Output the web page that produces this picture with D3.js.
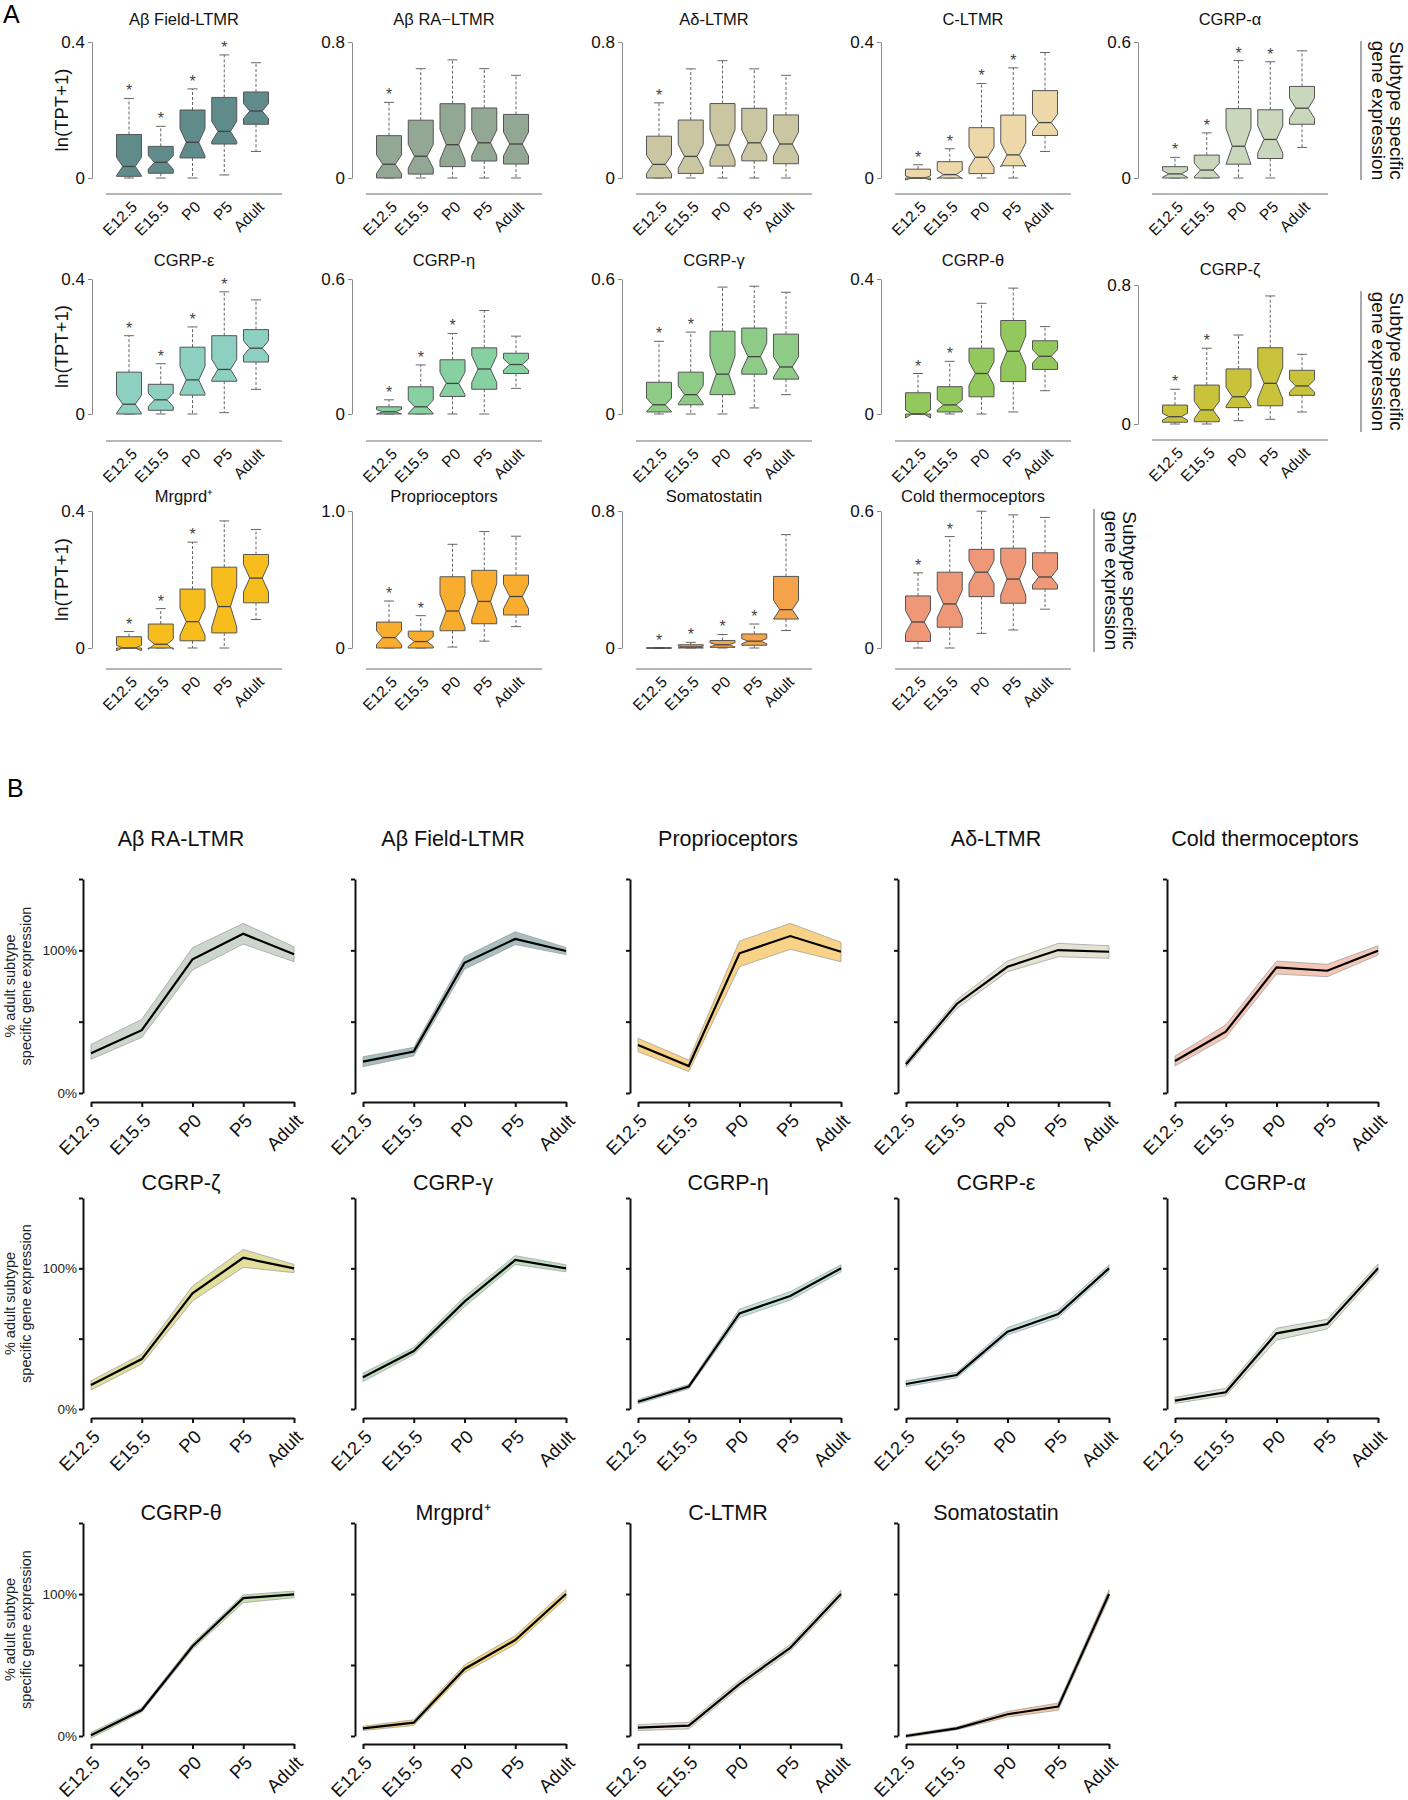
<!DOCTYPE html>
<html><head><meta charset="utf-8">
<script src="https://cdn.jsdelivr.net/npm/d3@7"></script>
<style>body{margin:0;background:#fff}svg{display:block;font-family:"Liberation Sans",Arial,Helvetica,sans-serif}</style>
</head><body><svg id="c" width="1408" height="1800"></svg>
<script>
// ---------- shared ----------
const stages = ["E12.5","E15.5","P0","P5","Adult"];

// ---------- Panel A (box plots, ln(TPT+1)) ----------
const titlesA = ["Aβ Field-LTMR","Aβ RA\u2212LTMR","Aδ-LTMR","C-LTMR","CGRP-α","CGRP-ε","CGRP-η","CGRP-γ","CGRP-θ","CGRP-ζ","Mrgprd\u207A","Proprioceptors","Somatostatin","Cold thermoceptors"];
const yMaxA = [0.4,0.8,0.8,0.4,0.6,0.4,0.6,0.6,0.4,0.8,0.4,1.0,0.8,0.6];
const fillA = ["#5f8b8b","#92a895","#cbc6a2","#ecd8a8","#c9d8bc","#8dd0c1","#86d0a2","#8dcb86","#93c85c","#c9c23b","#f6bd1c","#f8ad2e","#f4a34b","#ef9878"];
const loA = [
 [0,0,0,0.009,0.078],[0,0,0,0,0],[0,0,0,0,0],[0,0,0,0,0.078],[0,0,0,0,0.135],
 [0,0,0,0.004,0.073],[0,0,0,0,0.114],[0,0,0,0.027,0.086],[0,0,0,0.006,0.069],[0,0,0.019,0.027,0.069],
 [0,0,0,0,0.083],[0,0,0.007,0.05,0.156],[0,0,0,0,0.102],[0,0,0.064,0.079,0.17]];
const q1A = [
 [0.005,0.014,0.059,0.1,0.158],[0,0.023,0.067,0.1,0.082],[0,0.027,0.07,0.101,0.084],[0,0,0.013,0.036,0.125],[0,0,0.061,0.086,0.237],
 [0,0.011,0.056,0.097,0.154],[0,0,0.078,0.11,0.18],[0.009,0.041,0.086,0.177,0.155],[0,0.006,0.051,0.096,0.132],[0.01,0.013,0.094,0.105,0.165],
 [0,0,0.021,0.044,0.132],[0,0,0.126,0.177,0.241],[0,0,0.004,0.016,0.169],[0.029,0.091,0.225,0.196,0.258]];
const medA = [
 [0.034,0.046,0.105,0.137,0.197],[0.081,0.128,0.196,0.207,0.2],[0.08,0.127,0.194,0.207,0.2],[0,0.01,0.061,0.068,0.163],[0.018,0.035,0.14,0.17,0.308],
 [0.029,0.042,0.101,0.132,0.195],[0.01,0.032,0.136,0.2,0.22],[0.041,0.086,0.177,0.255,0.209],[0,0.027,0.12,0.186,0.171],[0.042,0.081,0.157,0.234,0.219],
 [0,0.011,0.077,0.121,0.204],[0.076,0.047,0.27,0.34,0.376],[0,0.006,0.019,0.04,0.224],[0.114,0.193,0.332,0.302,0.311]];
const q3A = [
 [0.128,0.093,0.2,0.237,0.253],[0.249,0.34,0.437,0.412,0.374],[0.246,0.341,0.438,0.41,0.371],[0.026,0.048,0.148,0.185,0.257],[0.05,0.101,0.306,0.301,0.404],
 [0.124,0.088,0.198,0.232,0.25],[0.032,0.121,0.241,0.294,0.27],[0.141,0.186,0.368,0.382,0.355],[0.063,0.081,0.195,0.277,0.217],[0.109,0.224,0.317,0.439,0.309],
 [0.033,0.07,0.172,0.236,0.273],[0.189,0.123,0.52,0.567,0.532],[0,0.019,0.044,0.082,0.418],[0.228,0.332,0.432,0.437,0.417]];
const hiA = [
 [0.234,0.152,0.262,0.362,0.339],[0.445,0.643,0.695,0.643,0.604],[0.442,0.642,0.69,0.642,0.604],[0.039,0.086,0.278,0.324,0.369],[0.091,0.199,0.518,0.513,0.561],
 [0.232,0.149,0.258,0.362,0.338],[0.063,0.218,0.358,0.46,0.346],[0.323,0.364,0.564,0.568,0.541],[0.12,0.156,0.328,0.373,0.259],[0.2,0.436,0.512,0.737,0.401],
 [0.048,0.115,0.309,0.371,0.346],[0.343,0.236,0.757,0.85,0.816],[0,0.033,0.079,0.14,0.662],[0.329,0.488,0.599,0.583,0.572]];
const notchA = [
 [0.027,0.02,0.04,0.03,0.022],[0.055,0.07,0.09,0.075,0.07],[0.055,0.07,0.09,0.075,0.07],[0.006,0.012,0.03,0.035,0.025],[0.015,0.03,0.08,0.06,0.045],
 [0.027,0.02,0.04,0.03,0.022],[0.01,0.03,0.05,0.06,0.025],[0.03,0.04,0.08,0.06,0.045],[0.012,0.015,0.035,0.045,0.02],[0.02,0.05,0.055,0.09,0.035],
 [0.008,0.015,0.04,0.06,0.04],[0.05,0.035,0.12,0.13,0.09],[0,0.005,0.012,0.015,0.055],[0.05,0.06,0.05,0.07,0.035]];
const starA = [
 [1,1,1,1,0],[1,0,0,0,0],[1,0,0,0,0],[1,1,1,1,0],[1,1,1,1,0],
 [1,1,1,1,0],[1,1,1,0,0],[1,1,0,0,0],[1,1,0,0,0],[1,1,0,0,0],
 [1,1,1,0,0],[1,1,0,0,0],[1,1,1,1,0],[1,1,0,0,0]];
const yLabelA = "ln(TPT+1)";
const sideLabelA = ["Subtype specific","gene expression"];

// ---------- Panel B (lines, % adult) ----------
const titlesB = ["Aβ RA-LTMR","Aβ Field-LTMR","Proprioceptors","Aδ-LTMR","Cold thermoceptors","CGRP-ζ","CGRP-γ","CGRP-η","CGRP-ε","CGRP-α","CGRP-θ","Mrgprd\u207A","C-LTMR","Somatostatin"];
const meanB = [
 [27.8,44,93.7,111.6,97.2],[22,29,91.3,108,99.5],[33.6,18.9,97.9,110,99],[20.1,62.4,88.5,100.2,99],[22.4,43,88.1,85.7,99.7],
 [17.1,35.5,82.2,107.5,100],[22.5,41.2,76.3,105.9,100],[5.2,15.9,68,80.3,100],[17.8,24.2,54.9,67.5,100],[5.9,11.9,53.8,60.4,100],
 [0.5,18.3,63.2,97.1,99.8],[5.4,9.4,47.2,67.6,100],[5.9,7.3,36.6,62.1,100],[0,5.4,15.3,20.7,100]];
const upperB = [
 [34,51.6,101.8,118.9,102.5],[25.4,32,95.5,113,102],[38.3,23.1,106.5,118.9,105.6],[22.4,65.2,92.5,104.9,103.2],[25.9,47.7,92.5,90.2,103.2],
 [20.1,38.9,87.4,113.4,102.8],[25.5,43.7,79.8,109,102.5],[6.7,17.4,71,83.4,102.5],[20.1,26.2,57.8,70.4,102.5],[8.3,14.7,57.4,63.8,103],
 [2.5,19.8,65.2,99.3,102.1],[6.9,11.4,50,70.6,103],[8,9.6,39,64.5,102.8],[1,6.4,17.3,23.2,103]];
const lowerB = [
 [23.6,39,86.2,104.4,92],[18.4,26,86.7,104,97],[29,15,88.5,100.7,92],[18,59.3,85,95.5,94.4],[18.9,39,83.4,81.5,96.7],
 [13.5,32,76.8,100.7,96.9],[19.5,38.7,72.7,102.8,97.5],[3.7,14.4,65,77.5,97.5],[15.9,22.2,52.6,65,97.5],[4,9.5,49,56.9,97],
 [-1.5,16.8,61.2,93.9,97.4],[3.9,7.4,44.6,64.6,97],[3.8,5,34.2,59.7,97.2],[-1,4.4,13.3,18.2,97]];
const bandB = ["#cdd6cd","#a9bfbf","#f7d287","#e4e3d2","#f3c6b6","#e2de9b","#bfe0c2","#c0e4d8","#c2e3df","#d9e3d2","#c7e1b1","#f4d77c","#e4ddcb","#f1cba6"];
const yTicksB = [0,50,100,150];
const yTickLabelsB = ["0%","","100%",""];
const yLabelB = ["% adult subtype","specific gene expression"];

// ================= drawing =================
const svg = d3.select("#c");
svg.append("text").attr("x",3).attr("y",23).attr("font-size",25).text("A");
svg.append("text").attr("x",7).attr("y",797).attr("font-size",25).text("B");

// ---- Panel A ----
const colA = [92,352,622,881,1138];
const rowsA = [{top:42,zero:178,xl:194,tb:25},{top:279,zero:414,xl:441,tb:266},{top:511,zero:648,xl:669,tb:502}];
const posA = [[0,0],[0,1],[0,2],[0,3],[0,4],[1,0],[1,1],[1,2],[1,3],[1,4],[2,0],[2,1],[2,2],[2,3]];
const BW = 25;
titlesA.forEach((t,i)=>{
  const [r,c] = posA[i];
  const R = (i===9) ? {top:285,zero:424,xl:440,tb:275} : rowsA[r];
  const ax = colA[c];
  const x = d3.scalePoint().domain(stages).range([ax+37, ax+164]);
  const y = d3.scaleLinear().domain([0,yMaxA[i]]).range([R.zero,R.top]);
  const g = svg.append("g");
  g.append("text").attr("x",ax+92).attr("y",R.tb).attr("text-anchor","middle").attr("font-size",16.5).attr("fill","#111").text(t);
  const ya = g.append("g").attr("transform",`translate(${ax},0)`)
    .call(d3.axisLeft(y).tickValues([0,yMaxA[i]]).tickSize(4).tickSizeOuter(0).tickPadding(3)
      .tickFormat(v=> v===0 ? "0" : d3.format(".1f")(v)));
  ya.selectAll("path,line").attr("stroke","#8a8a8a");
  ya.selectAll("text").attr("font-size",17).attr("fill","#111").attr("font-family","Liberation Sans, Arial, sans-serif");
  g.append("line").attr("x1",ax+14).attr("x2",ax+190).attr("y1",R.xl).attr("y2",R.xl).attr("stroke","#6f6f6f").attr("stroke-width",1.2);
  stages.forEach((s,j)=>{
    const cx = x(s);
    g.append("text").attr("transform",`translate(${cx+9},${R.xl+14}) rotate(-45)`).attr("text-anchor","end")
      .attr("font-size",15.5).attr("fill","#111").text(s);
    const lo=loA[i][j], q1=q1A[i][j], md=medA[i][j], q3=q3A[i][j], hi=hiA[i][j], nt=notchA[i][j];
    g.append("line").attr("x1",cx).attr("x2",cx).attr("y1",y(q3)).attr("y2",y(hi)).attr("stroke","#666").attr("stroke-dasharray","3,2");
    g.append("line").attr("x1",cx).attr("x2",cx).attr("y1",y(q1)).attr("y2",y(lo)).attr("stroke","#666").attr("stroke-dasharray","3,2");
    g.append("line").attr("x1",cx-5).attr("x2",cx+5).attr("y1",y(hi)).attr("y2",y(hi)).attr("stroke","#666");
    g.append("line").attr("x1",cx-5).attr("x2",cx+5).attr("y1",y(lo)).attr("y2",y(lo)).attr("stroke","#666");
    const l=cx-BW/2, rr=cx+BW/2, il=cx-BW/4, ir=cx+BW/4;
    const y3=y(q3), y1=y(q1), ym=y(md), yn1=y(md+nt), yn2=y(md-nt);
    const p = `M${l},${y3}L${rr},${y3}L${rr},${yn1}L${ir},${ym}L${rr},${yn2}L${rr},${y1}L${l},${y1}L${l},${yn2}L${il},${ym}L${l},${yn1}Z`;
    g.append("path").attr("d",p).attr("fill",fillA[i]).attr("stroke","#555").attr("stroke-width",1);
    g.append("line").attr("x1",il).attr("x2",ir).attr("y1",ym).attr("y2",ym).attr("stroke","#444").attr("stroke-width",1.3);
    if (starA[i][j]) g.append("text").attr("x",cx).attr("y",y(hi)-2).attr("text-anchor","middle").attr("font-size",16).attr("fill","#444").text("*");
  });
  if (c===0) {
    g.append("text").attr("transform",`translate(${ax-24},${(R.top+R.zero)/2}) rotate(-90)`).attr("text-anchor","middle")
      .attr("font-size",18.5).attr("fill","#111").text(yLabelA);
  }
});
[{x:1361,y1:41,y2:180},{x:1361,y1:291,y2:432},{x:1094,y1:509,y2:652}].forEach(s=>{
  svg.append("line").attr("x1",s.x).attr("x2",s.x).attr("y1",s.y1).attr("y2",s.y2).attr("stroke","#555");
  const cy=(s.y1+s.y2)/2;
  svg.append("text").attr("transform",`translate(${s.x+35},${cy}) rotate(90)`).attr("text-anchor","middle").attr("dominant-baseline","central").attr("font-size",19).attr("fill","#111").text(sideLabelA[0]);
  svg.append("text").attr("transform",`translate(${s.x+17},${cy}) rotate(90)`).attr("text-anchor","middle").attr("dominant-baseline","central").attr("font-size",19).attr("fill","#111").text(sideLabelA[1]);
});

// ---- Panel B ----
const colB = [83,355,630,898,1167];
const rowsB = [{top:879,zero:1093,xa:1102,tb:846},{top:1198,zero:1409,xa:1418,tb:1190},{top:1523,zero:1736,xa:1744,tb:1520}];
titlesB.forEach((t,i)=>{
  const r=Math.floor(i/5), c=i%5;
  const ax=colB[c], R=rowsB[r];
  const x=d3.scalePoint().domain(stages).range([ax+8, ax+211]);
  const y=d3.scaleLinear().domain([0,150]).range([R.zero,R.top]);
  const g=svg.append("g");
  g.append("text").attr("x",ax+98).attr("y",R.tb).attr("text-anchor","middle").attr("font-size",21.5).attr("fill","#111").text(t);
  const ya=g.append("g").attr("transform",`translate(${ax},0)`)
    .call(d3.axisLeft(y).tickValues(yTicksB).tickSize(4).tickSizeOuter(0).tickPadding(2)
      .tickFormat((v,k)=> c===0 ? yTickLabelsB[k] : ""));
  ya.selectAll("path,line").attr("stroke","#111").attr("stroke-width",2);
  ya.selectAll("text").attr("font-size",13.5).attr("fill","#222").attr("font-family","Liberation Sans, Arial, sans-serif");
  const xa=g.append("g").attr("transform",`translate(0,${R.xa})`)
    .call(d3.axisBottom(x).tickSize(5).tickSizeOuter(0).tickFormat(""));
  xa.selectAll("path,line").attr("stroke","#111").attr("stroke-width",2);
  stages.forEach(s=>{
    g.append("text").attr("transform",`translate(${x(s)+10},${R.xa+20}) rotate(-45)`).attr("text-anchor","end")
      .attr("font-size",18.5).attr("fill","#111").text(s);
  });
  const idx=d3.range(5);
  const area=d3.area().x(j=>x(stages[j])).y0(j=>y(lowerB[i][j])).y1(j=>y(upperB[i][j]));
  g.append("path").attr("d",area(idx)).attr("fill",bandB[i]).attr("stroke","#9a9a9a").attr("stroke-width",0.9).attr("stroke-opacity",0.8);
  const line=d3.line().x(j=>x(stages[j])).y(j=>y(meanB[i][j]));
  g.append("path").attr("d",line(idx)).attr("fill","none").attr("stroke","#000").attr("stroke-width",2.2);
  if (c===0) {
    const cy=(R.top+R.zero)/2;
    g.append("text").attr("transform",`translate(${ax-68},${cy}) rotate(-90)`).attr("text-anchor","middle").attr("font-size",14.5).attr("fill","#222").text(yLabelB[0]);
    g.append("text").attr("transform",`translate(${ax-52},${cy}) rotate(-90)`).attr("text-anchor","middle").attr("font-size",14.5).attr("fill","#222").text(yLabelB[1]);
  }
});
</script></body></html>
